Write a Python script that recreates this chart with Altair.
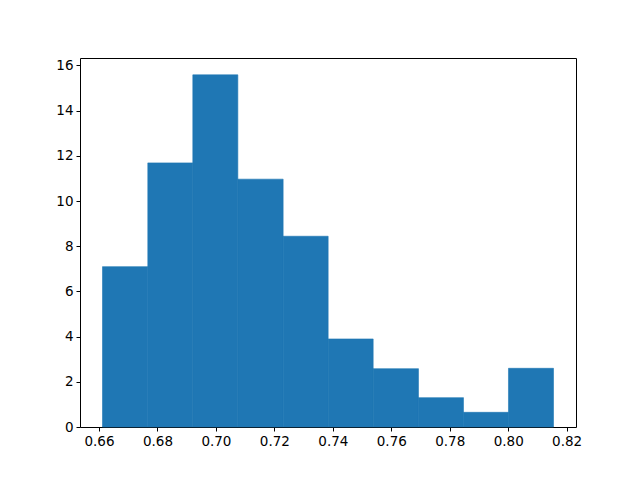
import altair as alt
import pandas as pd

# histogram bin edges (10 bins) and counts per bin (N = 100), shown as density
bin_edges = [0.6612, 0.6767, 0.6921, 0.7075, 0.7230, 0.7384, 0.7538, 0.7693, 0.7847, 0.8001, 0.8155]
counts = [11, 18, 24, 17, 13, 6, 4, 2, 1, 4]
x_ticks = [0.66, 0.68, 0.70, 0.72, 0.74, 0.76, 0.78, 0.80, 0.82]
y_ticks = [0, 2, 4, 6, 8, 10, 12, 14, 16]

total = sum(counts)
rows = []
for i, c in enumerate(counts):
    w = bin_edges[i + 1] - bin_edges[i]
    rows.append({"x0": bin_edges[i], "x1": bin_edges[i + 1], "density": c / (total * w)})
df = pd.DataFrame(rows)

axis_common = dict(
    grid=False, domain=False, tickColor="black", tickSize=4, tickWidth=1,
    labelFont="DejaVu Sans", labelFontSize=13.5, labelColor="black", labelPadding=3,
    title=None,
)

chart = alt.Chart(df).mark_rect(color="#1f77b4", stroke="#1f77b4", strokeWidth=0.6).encode(
    x=alt.X("x0:Q", scale=alt.Scale(domain=[0.6535, 0.8232], nice=False, zero=False),
            axis=alt.Axis(values=x_ticks, format=".2f", **axis_common)),
    x2="x1:Q",
    y=alt.Y("density:Q", scale=alt.Scale(domain=[0, 16.33], nice=False),
            axis=alt.Axis(values=y_ticks, format="d", **axis_common)),
    y2=alt.datum(0),
).properties(
    width=496, height=369,
    autosize=alt.AutoSizeParams(type="none"),
    padding={"left": 72, "top": 50, "right": 56, "bottom": 53},
).configure_view(stroke="black", strokeWidth=1)

chart.save("out.html", embed_options={"renderer": "svg", "actions": False})
